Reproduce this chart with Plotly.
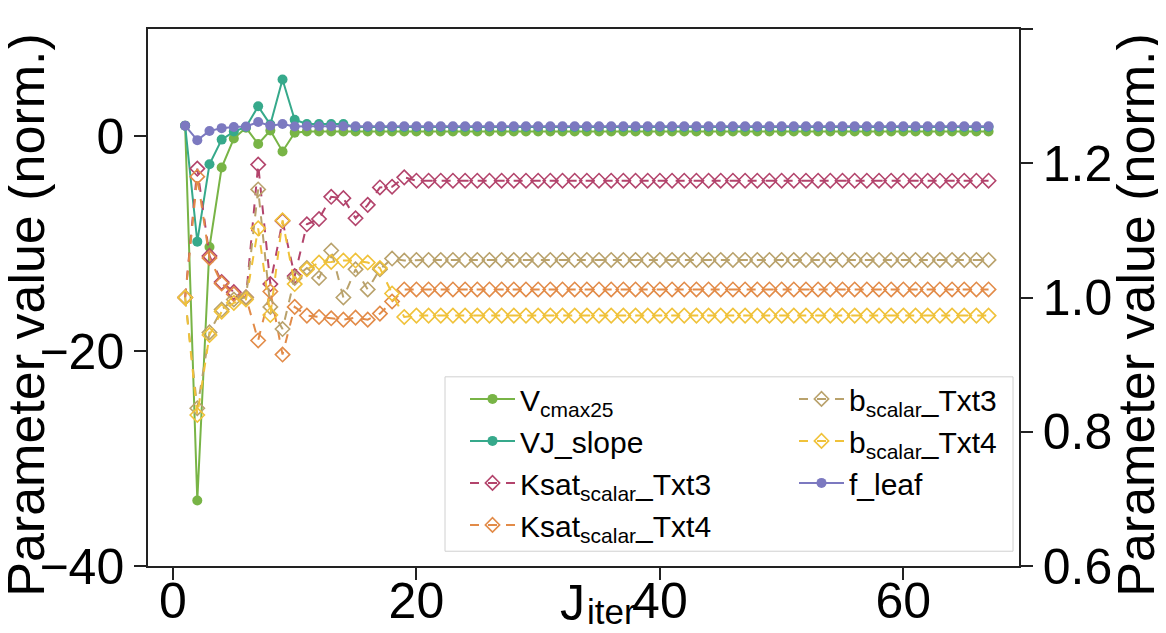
import plotly.graph_objects as go

iters = list(range(1, 68))

vcmax25 = [1.0, -33.9, -10.3, -2.9, -0.2, 0.8, -0.7, 0.55, -1.4, 0.35,
           0.45, 0.45, 0.45, 0.45, 0.45, 0.45, 0.45, 0.45, 0.45, 0.45,
           0.45, 0.45, 0.45, 0.45, 0.45, 0.45, 0.45, 0.45, 0.45, 0.45,
           0.45, 0.45, 0.45, 0.45, 0.45, 0.45, 0.45, 0.45, 0.45, 0.45,
           0.45, 0.45, 0.45, 0.45, 0.45, 0.45, 0.45, 0.45, 0.45, 0.45,
           0.45, 0.45, 0.45, 0.45, 0.45, 0.45, 0.45, 0.45, 0.45, 0.45,
           0.45, 0.45, 0.45, 0.45, 0.45, 0.45, 0.45]

vj_slope = [1.0, -9.8, -2.6, -0.3, 0.45, 0.87, 2.8, 1.1, 5.3, 1.55,
            1.15, 1.15, 1.15, 1.15, 0.87, 0.87, 0.87, 0.87, 0.87, 0.87,
            0.87, 0.87, 0.87, 0.87, 0.87, 0.87, 0.87, 0.87, 0.87, 0.87,
            0.87, 0.87, 0.87, 0.87, 0.87, 0.87, 0.87, 0.87, 0.87, 0.87,
            0.87, 0.87, 0.87, 0.87, 0.87, 0.87, 0.87, 0.87, 0.87, 0.87,
            0.87, 0.87, 0.87, 0.87, 0.87, 0.87, 0.87, 0.87, 0.87, 0.87,
            0.87, 0.87, 0.87, 0.87, 0.87, 0.87, 0.87]

f_leaf = [1.0, -0.35, 0.5, 0.77, 0.87, 0.92, 1.34, 1.0, 1.15, 0.92,
          0.95, 0.95, 0.95, 0.95, 0.95, 0.95, 0.95, 0.95, 0.95, 0.95,
          0.95, 0.95, 0.95, 0.95, 0.95, 0.95, 0.95, 0.95, 0.95, 0.95,
          0.95, 0.95, 0.95, 0.95, 0.95, 0.95, 0.95, 0.95, 0.95, 0.95,
          0.95, 0.95, 0.95, 0.95, 0.95, 0.95, 0.95, 0.95, 0.95, 0.95,
          0.95, 0.95, 0.95, 0.95, 0.95, 0.95, 0.95, 0.95, 0.95, 0.95,
          0.95, 0.95, 0.95, 0.95, 0.95, 0.95, 0.95]

ksat_txt3 = [1.0, 1.192, 1.062, 1.023, 1.008, 1.0, 1.198, 1.02, 1.114, 1.032,
             1.109, 1.117, 1.15, 1.148, 1.118, 1.138, 1.164, 1.165, 1.179, 1.174,
             1.174, 1.174, 1.174, 1.174, 1.174, 1.174, 1.174, 1.174, 1.174, 1.174,
             1.174, 1.174, 1.174, 1.174, 1.174, 1.174, 1.174, 1.174, 1.174, 1.174,
             1.174, 1.174, 1.174, 1.174, 1.174, 1.174, 1.174, 1.174, 1.174, 1.174,
             1.174, 1.174, 1.174, 1.174, 1.174, 1.174, 1.174, 1.174, 1.174, 1.174,
             1.174, 1.174, 1.174, 1.174, 1.174, 1.174, 1.174]

ksat_txt4 = [1.0, 1.18, 1.059, 1.021, 1.005, 1.0, 0.936, 1.009, 0.915, 0.986,
             0.973, 0.971, 0.969, 0.967, 0.97, 0.967, 0.976, 0.994, 1.012, 1.012,
             1.012, 1.012, 1.012, 1.012, 1.012, 1.012, 1.012, 1.012, 1.012, 1.012,
             1.012, 1.012, 1.012, 1.012, 1.012, 1.012, 1.012, 1.012, 1.012, 1.012,
             1.012, 1.012, 1.012, 1.012, 1.012, 1.012, 1.012, 1.012, 1.012, 1.012,
             1.012, 1.012, 1.012, 1.012, 1.012, 1.012, 1.012, 1.012, 1.012, 1.012,
             1.012, 1.012, 1.012, 1.012, 1.012, 1.012, 1.012]

b_txt3 = [1.0, 0.835, 0.948, 0.982, 0.997, 1.0, 1.161, 0.986, 0.953, 1.029,
          1.044, 1.029, 1.07, 1.0, 1.042, 1.012, 1.042, 1.058, 1.055, 1.056,
          1.056, 1.056, 1.056, 1.056, 1.056, 1.056, 1.056, 1.056, 1.056, 1.056,
          1.056, 1.056, 1.056, 1.056, 1.056, 1.056, 1.056, 1.056, 1.056, 1.056,
          1.056, 1.056, 1.056, 1.056, 1.056, 1.056, 1.056, 1.056, 1.056, 1.056,
          1.056, 1.056, 1.056, 1.056, 1.056, 1.056, 1.056, 1.056, 1.056, 1.056,
          1.056, 1.056, 1.056, 1.056, 1.056, 1.056, 1.056]

b_txt4 = [1.0, 0.825, 0.944, 0.979, 0.992, 0.997, 1.103, 0.974, 1.115, 1.02,
          1.042, 1.052, 1.053, 1.055, 1.055, 1.052, 1.044, 1.006, 0.971, 0.973,
          0.973, 0.973, 0.973, 0.973, 0.973, 0.973, 0.973, 0.973, 0.973, 0.973,
          0.973, 0.973, 0.973, 0.973, 0.973, 0.973, 0.973, 0.973, 0.973, 0.973,
          0.973, 0.973, 0.973, 0.973, 0.973, 0.973, 0.973, 0.973, 0.973, 0.973,
          0.973, 0.973, 0.973, 0.973, 0.973, 0.973, 0.973, 0.973, 0.973, 0.973,
          0.973, 0.973, 0.973, 0.973, 0.973, 0.973, 0.973]

x_ticks = [0, 20, 40, 60]
y1_ticks = [-40, -20, 0]
y2_ticks = [0.6, 0.8, 1.0, 1.2, 1.4]

FONT = "Liberation Sans, Arial, sans-serif"

fig = go.Figure()

def solid(name, y, color, legend):
    fig.add_trace(go.Scatter(
        x=iters, y=y, name=name, mode="lines+markers", yaxis="y",
        line=dict(color=color, width=2),
        marker=dict(symbol="circle", size=10, color=color),
        legend=legend, legendgroup=name))

def dashed(name, y, color, legend):
    fig.add_trace(go.Scatter(
        x=iters, y=y, name=name, mode="lines+markers", yaxis="y2",
        line=dict(color=color, width=2, dash="dash"),
        marker=dict(symbol="diamond-open", size=11, color=color,
                    line=dict(color=color, width=1.6)),
        legend=legend, legendgroup=name))

solid("V<sub>cmax25</sub>", vcmax25, "#78b446", "legend")
solid("VJ_slope", vj_slope, "#36a98b", "legend")
dashed("Ksat<sub>scalar</sub>_Txt3", ksat_txt3, "#b3446c", "legend")
dashed("Ksat<sub>scalar</sub>_Txt4", ksat_txt4, "#e28b48", "legend")
dashed("b<sub>scalar</sub>_Txt3", b_txt3, "#b9a26c", "legend2")
dashed("b<sub>scalar</sub>_Txt4", b_txt4, "#f0c23a", "legend2")
solid("f_leaf", f_leaf, "#7c79c0", "legend2")

L, R, T, B = 140, 155, 21, 67
W, H = 1166, 633
pw = W - L - R
ph = H - T - B

def px(xp):
    return (xp - L) / pw

def py(yp):
    return (H - B - yp) / ph

axis_common = dict(showgrid=False, zeroline=False, showline=True,
                   linecolor="#222", linewidth=1.5, ticks="outside",
                   ticklen=12, tickwidth=1.5, tickcolor="#222",
                   tickfont=dict(family=FONT, size=50, color="black"))

legend_common = dict(font=dict(family=FONT, size=30, color="black"),
                     bgcolor="rgba(0,0,0,0)", borderwidth=0,
                     traceorder="grouped", tracegroupgap=0,
                     xanchor="left", yanchor="top", itemwidth=45)

fig.update_layout(
    width=W, height=H,
    margin=dict(l=L, r=R, t=T, b=B, pad=0),
    paper_bgcolor="white", plot_bgcolor="white",
    font=dict(family=FONT, color="black"),
    xaxis=dict(range=[-2.05, 69.5], tickvals=x_ticks, mirror=True,
               ticklabelstandoff=-22, **axis_common),
    yaxis=dict(range=[-40, 10], tickvals=y1_ticks, **axis_common),
    yaxis2=dict(range=[0.6, 1.4], tickvals=y2_ticks, tickformat=".1f",
                overlaying="y", side="right", **axis_common),
    legend=dict(x=px(457), y=py(370), **legend_common),
    legend2=dict(x=px(786), y=py(370), **legend_common),
    shapes=[dict(type="rect", xref="paper", yref="paper",
                 x0=px(437), x1=px(1005), y0=py(551), y1=py(374),
                 line=dict(color="#d0d0d0", width=1), fillcolor="white",
                 layer="above")],
    annotations=[
        dict(text="Parameter value (norm.)", xref="paper", yref="paper",
             x=px(18), y=py(311), textangle=-90, showarrow=False,
             xanchor="center", yanchor="middle",
             font=dict(family=FONT, size=52, color="black")),
        dict(text="Parameter value (norm.)", xref="paper", yref="paper",
             x=px(1128), y=py(311), textangle=-90, showarrow=False,
             xanchor="center", yanchor="middle",
             font=dict(family=FONT, size=52, color="black")),
        dict(text="J", xref="paper", yref="paper",
             x=px(550), y=py(604), showarrow=False,
             xanchor="left", yanchor="middle",
             font=dict(family=FONT, size=50, color="black")),
        dict(text="iter", xref="paper", yref="paper",
             x=px(577), y=py(612), showarrow=False,
             xanchor="left", yanchor="middle",
             font=dict(family=FONT, size=35, color="black")),
    ],
)

fig.write_html("out.html")
